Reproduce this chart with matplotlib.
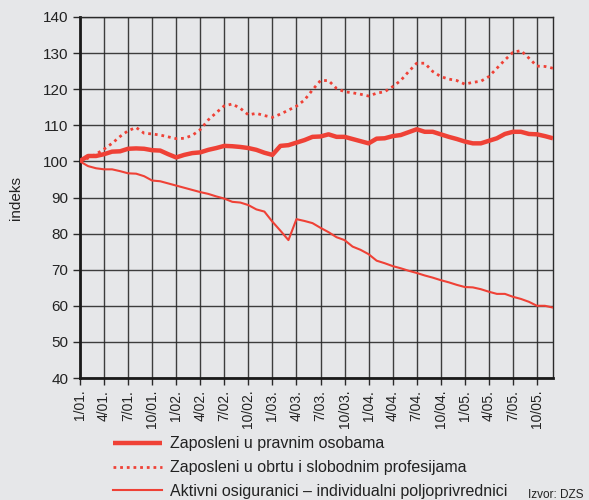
import matplotlib.pyplot as plt
import numpy as np

plt.rcParams['font.family'] = ['Liberation Sans', 'DejaVu Sans']

# mjesečni indeksi, 1/01. = 100
pravne = [100.1, 101.5, 101.5, 102.0, 102.7, 102.8, 103.5, 103.6, 103.5, 103.1,
          103.0, 102.0, 101.1, 101.8, 102.3, 102.5, 103.2, 103.7, 104.3, 104.2,
          104.0, 103.7, 103.2, 102.4, 101.8, 104.3, 104.5, 105.2, 105.9, 106.8,
          106.9, 107.5, 106.8, 106.8, 106.2, 105.6, 105.0, 106.3, 106.4, 107.0,
          107.3, 108.1, 108.9, 108.2, 108.2, 107.5, 106.8, 106.2, 105.5, 105.0,
          105.0, 105.7, 106.4, 107.6, 108.2, 108.2, 107.6, 107.5, 107.0, 106.4]
obrt = [100.0, 100.9, 102.0, 103.4, 105.0, 106.9, 108.5, 109.4, 107.8, 107.6,
        107.3, 106.8, 106.3, 106.4, 107.2, 108.8, 111.5, 113.5, 115.4, 115.9,
        114.7, 112.9, 113.3, 112.7, 112.2, 113.1, 114.2, 115.3, 117.0, 119.8,
        122.4, 122.4, 120.2, 119.3, 119.0, 118.6, 118.1, 118.9, 119.3, 120.7,
        122.4, 124.9, 127.2, 127.2, 124.9, 123.5, 122.8, 122.4, 121.4, 121.9,
        122.2, 123.5, 125.8, 128.1, 130.2, 130.7, 128.6, 126.4, 126.3, 125.8]
poljo = [100.0, 98.7, 98.1, 97.8, 97.8, 97.3, 96.7, 96.6, 95.9, 94.7,
         94.5, 93.9, 93.3, 92.7, 92.1, 91.5, 91.0, 90.3, 89.7, 88.8,
         88.6, 87.9, 86.7, 86.1, 83.3, 80.8, 78.2, 84.0, 83.5, 82.9,
         81.6, 80.4, 79.0, 78.2, 76.4, 75.5, 74.3, 72.5, 71.8, 71.0,
         70.4, 69.7, 69.1, 68.4, 67.8, 67.1, 66.5, 65.8, 65.2, 65.1,
         64.6, 63.9, 63.3, 63.3, 62.5, 61.9, 61.1, 60.0, 60.0, 59.5]
x_labels = ['1/01.', '4/01.', '7/01.', '10/01.', '1/02.', '4/02.', '7/02.',
            '10/02.', '1/03.', '4/03.', '7/03.', '10/03.', '1/04.', '4/04.',
            '7/04.', '10/04.', '1/05.', '4/05.', '7/05.', '10/05.']
names = ['Zaposleni u pravnim osobama',
         'Zaposleni u obrtu i slobodnim profesijama',
         'Aktivni osiguranici \u2013 individualni poljoprivrednici']

bg = '#e6e7e9'
red = '#ef4136'
grid_c = '#2a2a2a'

fig = plt.figure(figsize=(5.89, 5.0), dpi=100, facecolor=bg)
ax = fig.add_axes([80/589, 1 - 378/500, 473/589, 361/500], facecolor=bg)

months = np.arange(len(pravne))
l1, = ax.plot(months, pravne, color=red, lw=3.2, solid_capstyle='butt', zorder=3)
l2, = ax.plot(months, obrt, color=red, lw=2.0, linestyle=(0, (1, 1.4)), zorder=3)
l3, = ax.plot(months, poljo, color=red, lw=1.5, zorder=3)

ax.set_xlim(0, 59)
ax.set_ylim(40, 140)
ax.set_yticks(np.arange(40, 141, 10))
ax.set_xticks(np.arange(0, 60, 3))
ax.set_xticklabels(x_labels, rotation=90, fontsize=10, color='#222222')
ax.tick_params(axis='y', labelsize=11, labelcolor='#222222', length=5,
               width=1, color=grid_c, direction='out')
ax.tick_params(axis='x', length=5, width=1, color=grid_c, direction='out')
ax.grid(True, color=grid_c, lw=1.0, alpha=0.9)
ax.set_axisbelow(True)
for s in ['top', 'right']:
    ax.spines[s].set_color(grid_c)
    ax.spines[s].set_linewidth(1.0)
for s in ['left', 'bottom']:
    ax.spines[s].set_color('#1a1a1a')
    ax.spines[s].set_linewidth(2.0)
ax.set_ylabel('indeks', fontsize=11, color='#222222', labelpad=14)

fig.legend([l1, l2, l3], names, loc='upper left',
           bbox_to_anchor=(99/589, 1 - 422/500), frameon=False,
           fontsize=11.5, handlelength=3.05, handletextpad=0.5,
           labelspacing=0.55, labelcolor='#222222')

fig.text(528/589, 1 - 495/500, 'Izvor: DZS', fontsize=8.5, color='#222222',
         va='center', ha='left')

fig.savefig('out.png', dpi=100, facecolor=bg)
